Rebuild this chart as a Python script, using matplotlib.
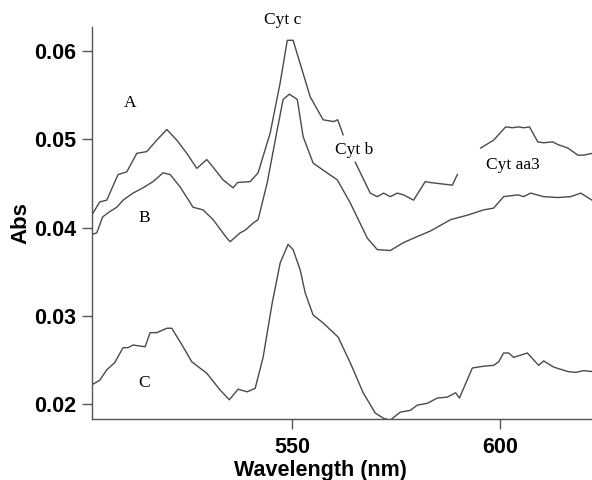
import numpy as np
import matplotlib.pyplot as plt

# data (wavelength nm, absorbance)
wl_a = [502, 503.9, 505.6, 508.3, 510.4, 512.8, 515.2, 517.6, 520, 522.4, 524.8, 527.2,
        529.6, 531, 533.5, 535.9, 537, 540, 541.9, 544.8, 547.2, 548.9, 550.3, 554.4,
        557.5, 560, 561, 562.3, 563.5, 565.2, 568.8, 570.5, 572, 573.6, 575.3, 576.8,
        579.2, 582, 583.2, 588.5, 589.7, 592, 595.3, 598.4, 601.3, 603, 604.2, 605.6,
        607, 609, 610.4, 612.6, 613.8, 616.2, 618.6, 620, 622]
abs_a = [0.0414, 0.0429, 0.0431, 0.0460, 0.0463, 0.0484, 0.0486, 0.0499, 0.0511, 0.0499,
         0.0484, 0.0467, 0.0477, 0.0469, 0.0454, 0.0445, 0.0451, 0.0452, 0.0462, 0.0507,
         0.0564, 0.0612, 0.0612, 0.0548, 0.0522, 0.0520, 0.0522, 0.0505, np.nan, 0.0474,
         0.0439, 0.0435, 0.0439, 0.0435, 0.0439, 0.0437, 0.0431, 0.0452, 0.0451, 0.0448,
         0.0460, np.nan, 0.0490, 0.0499, 0.0514, 0.0513, 0.0514, 0.0513, 0.0514, 0.0497,
         0.0496, 0.0497, 0.0494, 0.0490, 0.0482, 0.0482, 0.0484]

wl_b = [502, 503.2, 504.6, 506.3, 508, 509.5, 511.9, 514.3, 516.7, 519.1, 520.8, 523.2,
        526.3, 528.7, 531.1, 534.4, 535.2, 537.6, 538.8, 540.7, 541.9, 544.1, 546.5,
        547.9, 549.4, 551.3, 552.7, 555.1, 557.5, 560.9, 564, 568.1, 570.5, 573.6,
        576.8, 579.2, 583.2, 588.1, 592.1, 596, 598.4, 600.8, 604.2, 605.6, 607.3,
        610.4, 613.8, 616.9, 619.3, 622]
abs_b = [0.0392, 0.0394, 0.0412, 0.0418, 0.0423, 0.0431, 0.0439, 0.0445, 0.0452, 0.0462,
         0.0460, 0.0446, 0.0423, 0.0420, 0.0409, 0.0388, 0.0384, 0.0394, 0.0397, 0.0405,
         0.0409, 0.0451, 0.0511, 0.0545, 0.0551, 0.0545, 0.0503, 0.0473, 0.0465, 0.0454,
         0.0428, 0.0388, 0.0375, 0.0374, 0.0383, 0.0388, 0.0396, 0.0409, 0.0414, 0.0420,
         0.0422, 0.0435, 0.0437, 0.0435, 0.0439, 0.0435, 0.0434, 0.0435, 0.0439, 0.0431]

wl_c = [502, 503.9, 505.6, 507.5, 509.5, 510.7, 511.9, 514.8, 516, 517.6, 520, 521.2,
        523.9, 526, 529.6, 532.8, 535, 537.1, 539.3, 541.2, 543.1, 545.3, 547.2, 549.1,
        550.3, 552, 553.2, 555.1, 557.5, 561.1, 564, 567.1, 570, 572, 573.6, 576, 578.4,
        580.1, 582.5, 584.9, 587.3, 589.3, 590.2, 593.3, 596, 598.4, 599.6, 600.8, 602,
        603.2, 606.5, 609.2, 610.4, 612.8, 616.2, 618.1, 620, 622]
abs_c = [0.0222, 0.0227, 0.0239, 0.0247, 0.0264, 0.0264, 0.0267, 0.0265, 0.0281, 0.0281,
         0.0286, 0.0286, 0.0265, 0.0248, 0.0235, 0.0216, 0.0205, 0.0217, 0.0214, 0.0218,
         0.0253, 0.0315, 0.0360, 0.0381, 0.0375, 0.0352, 0.0326, 0.0301, 0.0292, 0.0276,
         0.0247, 0.0213, 0.0190, 0.0184, 0.0182, 0.0191, 0.0193, 0.0199, 0.0201, 0.0207,
         0.0208, 0.0213, 0.0207, 0.0241, 0.0243, 0.0244, 0.0248, 0.0258, 0.0258, 0.0253,
         0.0258, 0.0244, 0.0249, 0.0242, 0.0237, 0.0236, 0.0238, 0.0237]

# labels on the plot
labels = ["A", "B", "C", "Cyt c", "Cyt b", "Cyt aa3"]
label_x = [511.1, 514.5, 514.5, 547.9, 565.0, 603.0]
label_y = [0.0541, 0.0411, 0.0224, 0.0635, 0.0488, 0.0471]

fig = plt.figure(figsize=(5.92, 4.80), dpi=100)
ax = fig.add_axes([0.155, 0.127, 0.845, 0.817])

col = "#4a4a4a"
for x, y in [(wl_a, abs_a), (wl_b, abs_b), (wl_c, abs_c)]:
    ax.plot(x, y, color=col, lw=1.0)

for t, x, y in zip(labels, label_x, label_y):
    ax.text(x, y, t, ha="center", va="center", fontsize=12.5,
            family="Liberation Serif", clip_on=False)

ax.set_xlim(502, 622)
ax.set_ylim(0.01832, 0.06272)
ax.set_xticks([550, 600])
ax.set_yticks([0.02, 0.03, 0.04, 0.05, 0.06])
ax.set_yticklabels(["0.02", "0.03", "0.04", "0.05", "0.06"])

for s in ["top", "right"]:
    ax.spines[s].set_visible(False)
for s in ["left", "bottom"]:
    ax.spines[s].set_color("#555555")
    ax.spines[s].set_linewidth(1.0)

ax.tick_params(direction="out", length=7, width=1, color="#555555")
ax.tick_params(axis="x", pad=6)
ax.tick_params(axis="y", pad=4)
for lab in ax.get_xticklabels() + ax.get_yticklabels():
    lab.set_fontfamily("Liberation Sans")
    lab.set_fontweight("bold")
    lab.set_fontsize(15.5)

ax.set_xlabel("Wavelength (nm)", family="Liberation Sans", fontweight="bold",
              fontsize=15.5)
ax.xaxis.set_label_coords(0.458, -0.105)
ax.set_ylabel("Abs", family="Liberation Sans", fontweight="bold",
              fontsize=16, labelpad=2)

fig.savefig("out.png", dpi=100)
